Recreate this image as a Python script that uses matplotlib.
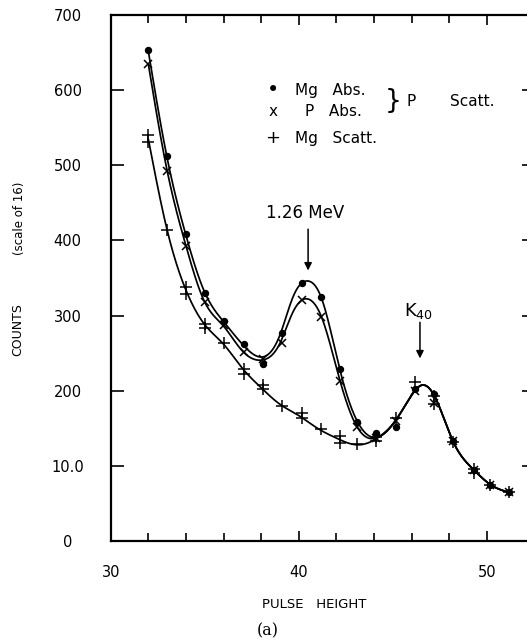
import numpy as np
import matplotlib
matplotlib.use("Agg")
import matplotlib.pyplot as plt

# ---------------- data ----------------
# Measured points: Mg absorber (dots)
mg_abs_x = [32, 33, 34, 35, 36, 37.1, 38.1, 39.1, 40.2, 41.2, 42.2, 43.1, 44.1, 45.2, 46.2, 47.2, 48.2, 49.3, 50.2, 51.2]
mg_abs_y = [653, 512, 409, 330, 293, 262, 235, 277, 344, 325, 229, 159, 144, 152, 202, 196, 133, 95, 75, 65]

# Measured points: P absorber (x)
p_abs_x = [32, 33, 34, 35, 36, 37.1, 38.1, 39.1, 40.2, 41.2, 42.2, 43.1, 44.1, 45.2, 46.2, 47.2, 48.2, 49.3, 50.2, 51.2]
p_abs_y = [635, 493, 393, 318, 287, 251, 242, 264, 321, 298, 213, 152, 137, 160, 200, 184, 133, 95, 75, 65]

# Measured points: Mg scatterer (+), repeated runs
mg_scatt_x = [32, 32, 33, 34, 34, 35, 35, 36, 37.1, 37.1, 38.1, 38.1, 39.1, 40.2, 40.2, 41.2, 42.2, 42.2,
              43.1, 44.1, 44.1, 45.2, 46.2, 47.2, 47.2, 48.2, 49.3, 49.3, 50.2, 51.2]
mg_scatt_y = [540, 531, 414, 338, 329, 289, 284, 264, 229, 222, 207, 202, 180, 171, 164, 149, 140, 131,
              129, 138, 133, 164, 211, 193, 182, 132, 96, 90, 75, 65]

# Smooth curves drawn through the data (knots)
tail_x = [45.2, 45.9, 46.5, 47.2, 48.2, 49.3, 50.2, 51.3]
tail_y = [162, 190, 207, 194, 133, 95, 75, 64]

curve_a_x = [32, 33, 34, 35, 36, 37, 38.1, 39, 39.7, 40.5, 41.2, 42.2, 43.1, 44.3] + tail_x
curve_a_y = [652, 510, 407, 331, 292, 262, 245, 274, 325, 346, 324, 227, 160, 139] + tail_y

curve_b_x = [32, 33, 34, 35, 36, 37, 38.1, 39, 39.7, 40.5, 41.2, 42.2, 43.1, 44.3] + tail_x
curve_b_y = [635, 493, 393, 318, 286, 253, 241, 263, 305, 322, 299, 213, 152, 139] + tail_y

curve_c_x = [32, 33, 34, 35, 36, 37, 38, 39, 40, 41, 42, 43.1, 44.3] + tail_x
curve_c_y = [535, 414, 334, 288, 262, 230, 204, 182, 167, 150, 137, 128, 139] + tail_y

y_ticks = [0, 100, 200, 300, 400, 500, 600, 700]
y_tick_labels = ["0", "10.0", "200", "300", "400", "500", "600", "700"]
x_ticks = [30, 40, 50]
x_tick_labels = ["30", "40", "50"]


def natural_spline(xk, yk, xs):
    xk = np.asarray(xk, float)
    yk = np.asarray(yk, float)
    n = len(xk)
    h = np.diff(xk)
    A = np.zeros((n, n))
    r = np.zeros(n)
    A[0, 0] = A[-1, -1] = 1.0
    for i in range(1, n - 1):
        A[i, i - 1] = h[i - 1]
        A[i, i] = 2 * (h[i - 1] + h[i])
        A[i, i + 1] = h[i]
        r[i] = 3 * ((yk[i + 1] - yk[i]) / h[i] - (yk[i] - yk[i - 1]) / h[i - 1])
    c = np.linalg.solve(A, r)
    b = np.diff(yk) / h - h * (2 * c[:-1] + c[1:]) / 3
    d = np.diff(c) / (3 * h)
    idx = np.clip(np.searchsorted(xk, xs) - 1, 0, n - 2)
    dx = xs - xk[idx]
    return yk[idx] + b[idx] * dx + c[idx] * dx ** 2 + d[idx] * dx ** 3


W, H = 527, 642
fig = plt.figure(figsize=(W / 100, H / 100), dpi=100)
ax = fig.add_axes([110.7 / W, 101 / H, 423 / W, 526 / H])
ax.set_xlim(30, 52.5)
ax.set_ylim(0, 700)

for cx, cy in [(curve_a_x, curve_a_y), (curve_b_x, curve_b_y), (curve_c_x, curve_c_y)]:
    xs = np.linspace(cx[0], cx[-1], 600)
    ax.plot(xs, natural_spline(cx, cy, xs), color="black", lw=1.25, solid_capstyle="round")

ax.plot(mg_abs_x, mg_abs_y, ls="none", marker="o", ms=4.3, color="black")
ax.plot(p_abs_x, p_abs_y, ls="none", marker="x", ms=6, mew=1.1, color="black")
ax.plot(mg_scatt_x, mg_scatt_y, ls="none", marker="+", ms=8, mew=1.1, color="black")

for s in ax.spines.values():
    s.set_linewidth(1.6)

ax.set_xticks(x_ticks)
ax.set_xticklabels(x_tick_labels)
ax.set_xticks(np.arange(32, 52, 2), minor=True)
ax.set_yticks(y_ticks)
ax.set_yticklabels(y_tick_labels)
ax.tick_params(axis="x", which="major", direction="in", top=True, bottom=True, length=7.5, width=1.2,
               pad=17, labelsize=10.5)
ax.tick_params(axis="x", which="minor", direction="in", top=True, bottom=True, length=5.5, width=1.2)
ax.tick_params(axis="y", which="major", direction="in", left=True, right=True, length=9, width=1.2,
               pad=31, labelsize=10.5)
for lab in ax.get_yticklabels():
    lab.set_horizontalalignment("center")


def px(x, y):
    return x / W, 1 - y / H


fig.text(*px(314, 605), "PULSE   HEIGHT", fontsize=9.5, ha="center", va="center")
fig.text(*px(268, 631), "(a)", fontsize=11.5, ha="center", va="center", family="DejaVu Serif")
fig.text(*px(18, 330), "COUNTS", fontsize=9, rotation=90, ha="center", va="center")
fig.text(*px(20, 218), "(scale of 16)", fontsize=8.5, rotation=90, ha="center", va="center")

# legend written as text, as in the reference
fig.text(*px(273, 90), "•", fontsize=15, ha="center", va="center")
fig.text(*px(273, 112), "x", fontsize=11, ha="center", va="center")
fig.text(*px(273, 138), "+", fontsize=13, ha="center", va="center")
fig.text(*px(295, 90), "Mg   Abs.", fontsize=11, ha="left", va="center")
fig.text(*px(305, 112), "P   Abs.", fontsize=11, ha="left", va="center")
fig.text(*px(393, 101), "}", fontsize=19, ha="center", va="center")
fig.text(*px(411, 101), "P", fontsize=11, ha="center", va="center")
fig.text(*px(472, 101), "Scatt.", fontsize=11, ha="center", va="center")
fig.text(*px(295, 138), "Mg   Scatt.", fontsize=11, ha="left", va="center")

# peak annotations
arrow = dict(arrowstyle="-|>", color="black", lw=1.1, mutation_scale=11, shrinkA=0, shrinkB=0)
ax.annotate("", xy=(40.5, 360), xytext=(40.5, 415), arrowprops=arrow)
ax.text(40.35, 436, "1.26 MeV", fontsize=12, ha="center", va="center")
ax.annotate("", xy=(46.45, 243), xytext=(46.45, 291), arrowprops=arrow)
ax.text(46.4, 306, r"$\mathrm{K}_{40}$", fontsize=13, ha="center", va="center")

fig.savefig("out.png", dpi=100)
